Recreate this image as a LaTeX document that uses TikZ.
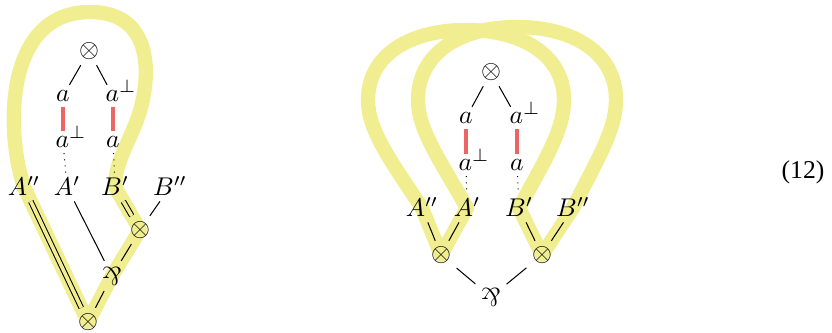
\documentclass[tikz,border=0pt]{standalone}
\usepackage{amsmath,amssymb,mathtools}
\usepackage{fontspec}
\usetikzlibrary{backgrounds}
\newfontfamily\eqnfont{Liberation Serif}
\definecolor{hlyellow}{RGB}{240,238,145}
\definecolor{axred}{RGB}{238,100,100}
\newcommand{\parrsym}{\rotatebox[origin=c]{180}{$\&$}}
\newcommand{\dual}[1]{#1^{\smash{\mathrlap{\perp}}}}
\tikzset{
  lab/.style={inner sep=2pt},
  hl/.style={hlyellow, line width=5.6pt, line cap=round, line join=round},
  axlink/.style={axred, line width=1.5pt},
  dbl/.style={double=hlyellow, double distance=1.4pt},
}

\begin{document}
\begin{tikzpicture}[x=0.39pt,y=-0.39pt]
\useasboundingbox (0,0) rectangle (832,333);
% left net
\node[lab] (lt) at (89,51) {$\otimes$};
\node[lab] (la1) at (63,96) {$a$};
\node[lab] (lb1) at (113,96) {$\dual{a}$};
\node[lab] (la2) at (63,142) {$\dual{a}$};
\node[lab] (lb2) at (113,142) {$a$};
\node[lab] (lA2) at (24,187) {$A^{\smash{\prime\prime}}$};
\node[lab] (lA1) at (67,187) {$A^{\smash{\prime}}$};
\node[lab] (lB1) at (115,187) {$B^{\smash{\prime}}$};
\node[lab] (lB2) at (170,187) {$B^{\smash{\prime\prime}}$};
\node[lab] (lr) at (140,230) {$\otimes$};
\node[lab] (lp) at (112,276) {\parrsym};
\node[lab] (lbot) at (88,322) {$\otimes$};
\draw (lt) -- (la1);
\draw (lt) -- (lb1);
\draw[axlink] (la1) -- (la2);
\draw[axlink] (lb1) -- (lb2);
\draw[dotted] (la2) -- (lA1);
\draw[dotted] (lb2) -- (lB1);
\draw[dbl] (lA2) -- (lbot);
\draw[dbl] (lB1) -- (lr);
\draw (lB2) -- (lr);
\draw (lA1) -- (lp);
\draw (lr) -- (lp);
\draw (lp) -- (lbot);
% right net
\node[lab] (rt) at (491,72) {$\otimes$};
\node[lab] (ra1) at (466,118) {$a$};
\node[lab] (rb1) at (517,118) {$\dual{a}$};
\node[lab] (ra2) at (466,165) {$\dual{a}$};
\node[lab] (rb2) at (517,165) {$a$};
\node[lab] (rA2) at (422,208) {$A^{\smash{\prime\prime}}$};
\node[lab] (rA1) at (467,208) {$A^{\smash{\prime}}$};
\node[lab] (rB1) at (519,208) {$B^{\smash{\prime}}$};
\node[lab] (rB2) at (573,208) {$B^{\smash{\prime\prime}}$};
\node[lab] (rl) at (441,255) {$\otimes$};
\node[lab] (rr) at (542,255) {$\otimes$};
\node[lab] (rp) at (491,297) {\parrsym};
\draw (rt) -- (ra1);
\draw (rt) -- (rb1);
\draw[axlink] (ra1) -- (ra2);
\draw[axlink] (rb1) -- (rb2);
\draw[dotted] (ra2) -- (rA1);
\draw[dotted] (rb2) -- (rB1);
\draw (rA2) -- (rl);
\draw (rA1) -- (rl);
\draw (rB1) -- (rr);
\draw (rB2) -- (rr);
\draw (rl) -- (rp);
\draw (rr) -- (rp);
\node[font=\eqnfont] (eqno) at (803,172) {(12)};
% highlighted switching paths
\begin{scope}[on background layer]
\draw[hl] (lA2.center) .. controls (5,130) and (5,12) .. (90,12)
  .. controls (160,12) and (150,90) .. (135,125)
  .. controls (125,150) and (115,165) .. (lB1.center)
  -- (lr.center) -- (lp.center) -- (lbot.center) -- cycle;
\draw[hl] (rA2.center) .. controls (390,160) and (368,130) .. (368,100)
  .. controls (368,55) and (410,30) .. (466,30)
  .. controls (522,30) and (564,55) .. (564,100)
  .. controls (564,130) and (545,160) .. (rB1.center);
\draw[hl] (rA1.center) .. controls (440,160) and (418,130) .. (418,100)
  .. controls (418,52) and (462,27) .. (517,27)
  .. controls (572,27) and (616,52) .. (616,100)
  .. controls (616,130) and (597,160) .. (rB2.center);
\draw[hl] (rA2.center) -- (rl.center) -- (rA1.center);
\draw[hl] (rB1.center) -- (rr.center) -- (rB2.center);
\end{scope}
\end{tikzpicture}
\end{document}
